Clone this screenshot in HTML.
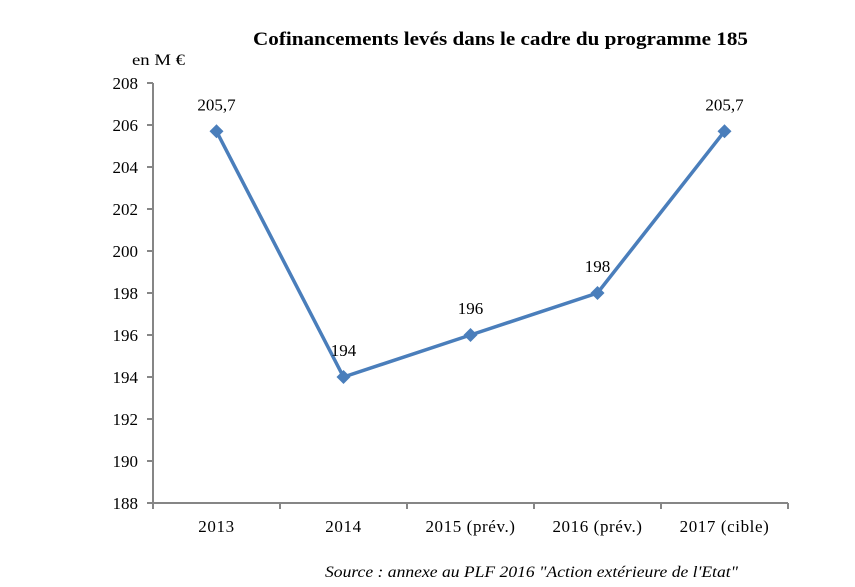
<!DOCTYPE html>
<html><head><meta charset="utf-8"><style>
body{margin:0;background:#fff;}
svg{display:block;font-family:"Liberation Serif",serif;}
</style></head><body>
<svg id="chart" width="855" height="587" viewBox="0 0 855 587">
<text x="253" y="45" textLength="495" lengthAdjust="spacingAndGlyphs" font-size="19" font-weight="bold">Cofinancements levés dans le cadre du programme 185</text>
<text x="132" y="65" textLength="53" lengthAdjust="spacingAndGlyphs" font-size="16">en M €</text>
<text x="325" y="577" textLength="413" lengthAdjust="spacingAndGlyphs" font-size="16" font-style="italic">Source : annexe au PLF 2016 "Action extérieure de l'Etat"</text>
<g id="axes"></g><g id="series"></g>
</svg>
<script>
const categories=["2013","2014","2015 (prév.)","2016 (prév.)","2017 (cible)"];
const values=[205.7,194,196,198,205.7];
const valueLabels=["205,7","194","196","198","205,7"];
const yTicks=[188,190,192,194,196,198,200,202,204,206,208];
const NS="http://www.w3.org/2000/svg";
const x0=153,x1=788,yTop=83,yBot=503,yMin=188,yMax=208;
const band=(x1-x0)/categories.length;
const xs=i=>x0+band*(i+0.5);
const ys=v=>yBot-(v-yMin)/(yMax-yMin)*(yBot-yTop);
function mk(t,a,p){const e=document.createElementNS(NS,t);for(const k in a)e.setAttribute(k,a[k]);p.appendChild(e);return e;}
const ax=document.getElementById('axes'),se=document.getElementById('series');
let e=mk('line',{x1:x0,y1:yTop,x2:x0,y2:yBot,stroke:'#868686','stroke-width':2},ax);


e=mk('line',{x1:x0-6,y1:yBot,x2:x1,y2:yBot,stroke:'#868686','stroke-width':2},ax);


yTicks.forEach(v=>{
 let t=mk('line',{x1:x0-6,y1:ys(v),x2:x0,y2:ys(v),stroke:'#868686','stroke-width':2},ax);
 
 
 let l=mk('text',{x:x0-15,y:ys(v)+6,'text-anchor':'end','font-size':17},ax);l.textContent=v;
 
 
});
for(let i=0;i<=categories.length;i++){
 let t=mk('line',{x1:x0+band*i,y1:yBot,x2:x0+band*i,y2:yBot+6,stroke:'#868686','stroke-width':2},ax);
 
 
}
categories.forEach((c,i)=>{
 let l=mk('text',{x:xs(i),y:532,'text-anchor':'middle','font-size':17,'letter-spacing':'0.6'},ax);l.textContent=c;
 
 
});
let p=mk('polyline',{points:values.map((v,i)=>xs(i)+','+ys(v)).join(' '),fill:'none',stroke:'#4a7ebb','stroke-width':3.5},se);


values.forEach((v,i)=>{
 const x=xs(i),y=ys(v);
 let m=mk('polygon',{points:`${x},${y-7} ${x+7},${y} ${x},${y+7} ${x-7},${y}`,fill:'#4a7ebb'},se);
 
 
 let l=mk('text',{x:x,y:y-21,'text-anchor':'middle','font-size':17},se);l.textContent=valueLabels[i];
 
 
});
</script>
</body></html>
